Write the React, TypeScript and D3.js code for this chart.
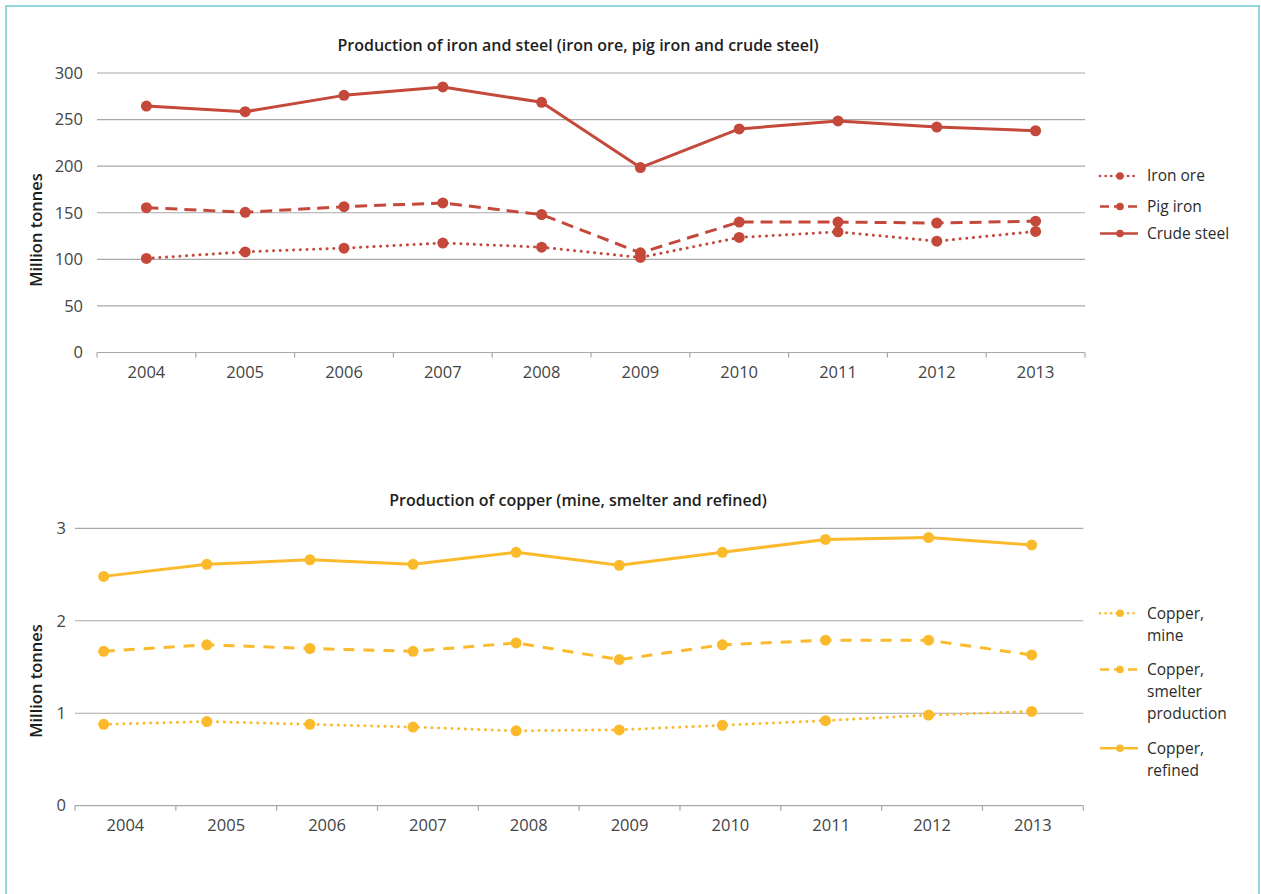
import React from "react";
import * as d3 from "d3";

const years = [2004, 2005, 2006, 2007, 2008, 2009, 2010, 2011, 2012, 2013];

const ironOre = [101, 108, 112, 117.5, 113, 102, 123.5, 129.5, 119.5, 130];
const pigIron = [155.5, 150.5, 156.5, 160.5, 148, 107, 140, 140, 139, 141];
const crudeSteel = [264.5, 258.5, 276, 285, 268.5, 198.5, 240, 248.5, 242, 238];

const copperMine = [0.88, 0.91, 0.88, 0.85, 0.81, 0.82, 0.87, 0.92, 0.98, 1.02];
const copperSmelter = [1.67, 1.74, 1.7, 1.67, 1.76, 1.58, 1.74, 1.79, 1.79, 1.63];
const copperRefined = [2.48, 2.61, 2.66, 2.61, 2.74, 2.6, 2.74, 2.88, 2.9, 2.82];

const topTicks = [0, 50, 100, 150, 200, 250, 300];
const bottomTicks = [0, 1, 2, 3];

const RED = "#C4493B";
const YEL = "#FBBA2B";
const GRID = "#A8A8A8";
const FONT = "'Open Sans', 'Noto Sans', sans-serif";
const TICK_COLOR = "#444444";

const DOT = "0.1 6.6";
const DASH = "12 7";

type Series = { name: string[]; values: number[]; dash: string | null; width: number };

const topSeries: Series[] = [
  { name: ["Iron ore"], values: ironOre, dash: DOT, width: 3 },
  { name: ["Pig iron"], values: pigIron, dash: DASH, width: 3 },
  { name: ["Crude steel"], values: crudeSteel, dash: null, width: 3 },
];
const bottomSeries: Series[] = [
  { name: ["Copper,", "mine"], values: copperMine, dash: DOT, width: 3 },
  { name: ["Copper,", "smelter", "production"], values: copperSmelter, dash: "11 9", width: 3 },
  { name: ["Copper,", "refined"], values: copperRefined, dash: null, width: 3 },
];

function Panel(props: {
  title: string;
  titleY: number;
  x0: number;
  x1: number;
  y0: number;
  y1: number;
  domainMax: number;
  ticks: number[];
  series: Series[];
  color: string;
  pointRange: [number, number] | null;
  tickLabelX: number;
  axisTitleY: number;
  legendYs: number[];
  radius: number;
}) {
  const { x0, x1, y0, y1, series, color } = props;
  const xBand = d3.scaleBand<number>().domain(years).range([x0, x1]).paddingInner(0).paddingOuter(0);
  const xPoint = props.pointRange
    ? d3.scalePoint<number>().domain(years).range(props.pointRange)
    : (v: number) => (xBand(v) as number) + xBand.bandwidth() / 2;
  const y = d3.scaleLinear().domain([0, props.domainMax]).range([y0, y1]);
  const boundaries = years.map((yr) => xBand(yr) as number).concat([x1]);

  return (
    <g>
      <text
        x={578}
        y={props.titleY}
        textAnchor="middle"
        fontFamily={FONT}
        fontSize={16}
        fontWeight={600}
        fill="#1e1e1e"
      >
        {props.title}
      </text>
      {props.ticks.map((t) => (
        <g key={t}>
          <line x1={x0} x2={x1} y1={y(t)} y2={y(t)} stroke={GRID} strokeWidth={1.2} />
          <text
            x={props.tickLabelX}
            y={y(t)}
            dy="0.35em"
            textAnchor="end"
            fontFamily={FONT}
            fontSize={16.5}
            fill={TICK_COLOR}
          >
            {t}
          </text>
        </g>
      ))}
      {boundaries.map((b, i) => (
        <line key={i} x1={b} x2={b} y1={y0} y2={y0 + 5} stroke={GRID} strokeWidth={1.2} />
      ))}
      {years.map((yr) => (
        <text
          key={yr}
          x={(xBand(yr) as number) + xBand.bandwidth() / 2}
          y={y0 + 20}
          dy="0.35em"
          textAnchor="middle"
          fontFamily={FONT}
          fontSize={16.5}
          fill={TICK_COLOR}
        >
          {yr}
        </text>
      ))}
      <text
        transform={`translate(36,${props.axisTitleY}) rotate(-90)`}
        textAnchor="middle"
        dy="0.35em"
        fontFamily={FONT}
        fontSize={16.5}
        fontWeight={600}
        fill="#1e1e1e"
      >
        Million tonnes
      </text>
      {series.map((s, si) => {
        const line = d3
          .line<number>()
          .x((_, i) => xPoint(years[i]) as number)
          .y((v) => y(v));
        return (
          <g key={si}>
            <path
              d={line(s.values) || ""}
              fill="none"
              stroke={color}
              strokeWidth={s.width}
              strokeDasharray={s.dash || undefined}
              strokeLinecap={s.dash === DOT ? "round" : "butt"}
              strokeLinejoin="round"
            />
            {s.values.map((v, i) => (
              <circle key={i} cx={xPoint(years[i]) as number} cy={y(v)} r={props.radius} fill={color} />
            ))}
          </g>
        );
      })}
      {series.map((s, si) => {
        const ly = props.legendYs[si];
        return (
          <g key={"lg" + si}>
            <line
              x1={1100}
              x2={1138}
              y1={ly}
              y2={ly}
              stroke={color}
              strokeWidth={s.width - 0.4}
              strokeDasharray={s.dash ? (s.dash === DOT ? "0.1 5.5" : "9 5") : undefined}
              strokeLinecap={s.dash === DOT ? "round" : "butt"}
            />
            <circle cx={1120} cy={ly} r={3.8} fill={color} />
            {s.name.map((n, ni) => (
              <text
                key={ni}
                x={1147}
                y={ly + ni * 22}
                dy="0.35em"
                fontFamily={FONT}
                fontSize={15.5}
                fill="#2b2b2b"
              >
                {n}
              </text>
            ))}
          </g>
        );
      })}
    </g>
  );
}

export default function App() {
  return (
    <svg
      width={1261}
      height={894}
      style={{ position: "absolute", left: 0, top: 0, background: "#fff" }}
    >
      <rect x={6} y={6} width={1253} height={910} fill="none" stroke="#6CCBD4" strokeWidth={1.5} />
      <Panel
        title="Production of iron and steel (iron ore, pig iron and crude steel)"
        titleY={51}
        x0={97}
        x1={1085}
        y0={352.5}
        y1={73}
        domainMax={300}
        ticks={topTicks}
        series={topSeries}
        color={RED}
        pointRange={null}
        tickLabelX={83}
        axisTitleY={230}
        legendYs={[176, 206.5, 233.5]}
        radius={5.5}
      />
      <Panel
        title="Production of copper (mine, smelter and refined)"
        titleY={506}
        x0={75}
        x1={1083.3}
        y0={805.7}
        y1={528.3}
        domainMax={3}
        ticks={bottomTicks}
        series={bottomSeries}
        color={YEL}
        pointRange={[103.7, 1031.7]}
        tickLabelX={66}
        axisTitleY={681}
        legendYs={[613.3, 669.5, 748.3]}
        radius={5.5}
      />
    </svg>
  );
}
